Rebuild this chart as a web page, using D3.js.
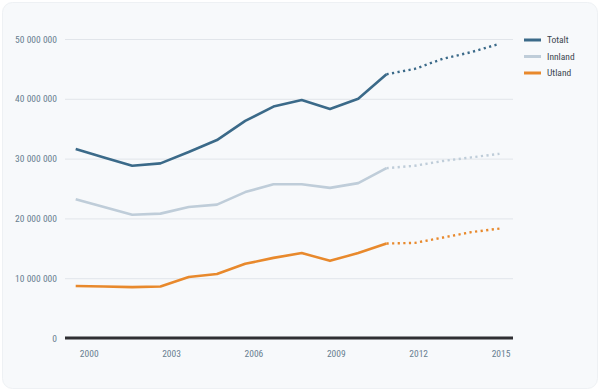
<!DOCTYPE html>
<html>
<head>
<meta charset="utf-8">
<script src="https://cdn.jsdelivr.net/npm/d3@7"></script>
<style>
  html, body { margin: 0; padding: 0; background: #ffffff; }
  #chart { width: 600px; height: 392px; }
  text { font-family: "Liberation Sans Narrow", "Roboto Condensed", "Liberation Sans", sans-serif; }
</style>
</head>
<body>
<div id="chart"></div>
<script>
// data (values in kroner/units)
const years = [2000, 2001, 2002, 2003, 2004, 2005, 2006, 2007, 2008, 2009, 2010, 2011, 2012, 2013, 2014, 2015];
const lastActual = 2011; // after this the lines are dotted (forecast)
const totalt  = [31.6, 30.2, 28.8, 29.2, 31.1, 33.1, 36.3, 38.7, 39.8, 38.3, 40.0, 44.1, 45.0, 46.7, 47.8, 49.2].map(v => v * 1e6);
const innland = [23.2, 21.9, 20.6, 20.8, 21.9, 22.3, 24.4, 25.7, 25.7, 25.1, 25.9, 28.4, 28.8, 29.6, 30.2, 30.8].map(v => v * 1e6);
const utland  = [8.7, 8.6, 8.5, 8.6, 10.2, 10.7, 12.4, 13.4, 14.2, 12.9, 14.2, 15.8, 15.9, 16.8, 17.7, 18.3].map(v => v * 1e6);
const seriesNames = ["Totalt", "Innland", "Utland"];
const seriesColors = ["#3b6a89", "#bfcdd9", "#e8892c"];
const yTicks = [0, 10000000, 20000000, 30000000, 40000000, 50000000];
const xTicks = [2000, 2003, 2006, 2009, 2012, 2015];

const W = 600, H = 392;
const svg = d3.select('#chart').append('svg')
  .attr('width', W).attr('height', H);

// card background
svg.append('rect')
  .attr('x', 2.5).attr('y', 2.5)
  .attr('width', W - 5).attr('height', H - 6)
  .attr('rx', 10).attr('ry', 10)
  .attr('fill', '#f7f9fb')
  .attr('stroke', '#eef1f4');

const plotLeft = 65, plotRight = 513;

// y scale: 0 at 338, 50M at 39
const y = d3.scaleLinear().domain([0, 50000000]).range([338, 39]);
// line positions
const x = d3.scaleLinear().domain([2000, 2015]).range([75.7, 499.5]);
// tick label positions (labels sit slightly off the data points in the original)
const xLab = d3.scaleLinear().domain([2000, 2015]).range([88.7, 500.5]);

const fmt = v => d3.format(',')(v).replace(/,/g, ' ');

// grid
const grid = svg.append('g')
  .attr('transform', `translate(${plotLeft},0)`)
  .call(d3.axisLeft(y).tickValues(yTicks).tickSize(-(plotRight - plotLeft)).tickFormat(''));
grid.select('.domain').remove();
grid.selectAll('line').attr('stroke', '#e1e5ea').attr('stroke-width', 1);

// y labels
const yAxis = svg.append('g')
  .attr('transform', `translate(${plotLeft - 8},0)`)
  .call(d3.axisLeft(y).tickValues(yTicks).tickSize(0).tickPadding(0).tickFormat(fmt));
yAxis.select('.domain').remove();
yAxis.selectAll('text')
  .attr('fill', '#687e90')
  .style('font-size', '9.5px');

// x labels
const xAxis = svg.append('g')
  .attr('transform', 'translate(0,348)')
  .call(d3.axisBottom(xLab).tickValues(xTicks).tickSize(0).tickPadding(0).tickFormat(d3.format('d')));
xAxis.select('.domain').remove();
xAxis.selectAll('text')
  .attr('fill', '#687e90')
  .attr('dy', '0.9em')
  .style('font-size', '9.5px');

// baseline
svg.append('line')
  .attr('x1', plotLeft).attr('x2', plotRight)
  .attr('y1', y(0)).attr('y2', y(0))
  .attr('stroke', '#2f2f33').attr('stroke-width', 3);

// lines
const allSeries = [totalt, innland, utland];
const line = d3.line()
  .x(d => x(d[0]))
  .y(d => y(d[1]));

allSeries.forEach((vals, i) => {
  const pts = years.map((yr, j) => [yr, vals[j]]);
  const actual = pts.filter(p => p[0] <= lastActual);
  const forecast = pts.filter(p => p[0] >= lastActual);

  svg.append('path')
    .datum(forecast)
    .attr('d', line)
    .attr('fill', 'none')
    .attr('stroke', seriesColors[i])
    .attr('stroke-width', 2.4)
    .attr('stroke-dasharray', '2.2,3.4');

  svg.append('path')
    .datum(actual)
    .attr('d', line)
    .attr('fill', 'none')
    .attr('stroke', seriesColors[i])
    .attr('stroke-width', 2.6)
    .attr('stroke-linejoin', 'round');
});

// legend
const legend = svg.append('g').attr('transform', 'translate(524,40)');
seriesNames.forEach((name, i) => {
  const g = legend.append('g').attr('transform', `translate(0,${i * 16.5})`);
  g.append('line')
    .attr('x1', 0).attr('x2', 17)
    .attr('stroke', seriesColors[i]).attr('stroke-width', 3);
  g.append('text')
    .attr('x', 23).attr('y', 0).attr('dy', '0.35em')
    .attr('fill', '#3c4650')
    .style('font-size', '9.5px')
    .text(name);
});
</script>
</body>
</html>
